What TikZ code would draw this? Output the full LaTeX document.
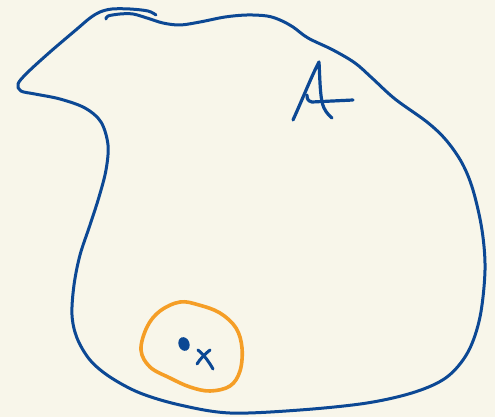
\documentclass[tikz,border=0pt]{standalone}
\definecolor{bg}{RGB}{248,246,234}
\definecolor{ink}{RGB}{12,72,148}
\definecolor{orng}{RGB}{245,158,38}
\tikzset{
  outline/.style={draw=ink, line width=3pt, line cap=round, line join=round},
  glyph/.style={draw=ink, line width=3.2pt, line cap=round, line join=round},
  nbhd/.style={draw=orng, line width=3.6pt, line cap=round, line join=round},
}
\begin{document}
\begin{tikzpicture}[x=1pt,y=-1pt]
\fill[bg] (0,0) rectangle (495,417);
\useasboundingbox (0,0) rectangle (495,417);
% set A outline
\draw[outline] plot[smooth, tension=0.55] coordinates {
(156,15) (148,11) (130,9) (112,9) (100,12) (90,18) (77,29) (50,52) (27,73) (18,84) (21,91) (35,94) (60,99) (85,108) (101,122) (108,145) (106,170) (99,197) (90,225) (80,255) (74,285) (72,315) (77,338) (90,360) (110,377) (140,393) (180,405) (230,413) (300,410) (367,403) (415,392) (447,377) (468,352) (480,317) (485,270) (482,230) (473,190) (462,163) (446,140) (427,122) (395,99) (372,78) (355,63) (333,50) (308,38) (293,27) (280,20) (267,16) (247,15) (225,17) (200,22) (180,25) (163,23) (147,18) (133,14) (120,14) (108,16) (106,19)};
% label A
\coordinate (Atop) at (319,62);
\draw[glyph] (293,120) .. controls (303,98) and (312,75) .. (Atop)
  .. controls (320,80) and (320,100) .. (324,108) .. controls (327,114) and (330,116) .. (332,118);
\draw[glyph] (307,95) .. controls (307,99) and (308,101) .. (312,102) -- (353,100);
% neighbourhood
\draw[nbhd] plot[smooth cycle, tension=0.6] coordinates {
(141,350) (147,327) (160,311) (180,302) (199,305) (220,313) (236,328) (242,348) (240,371) (230,386) (210,391) (190,387) (170,378) (150,367)};
% point x
\fill[ink, rotate around={20:(184,344)}] (184,344) ellipse (5.5pt and 7pt);
\draw[glyph, line width=3pt] (198,350) .. controls (205,356) and (209,362) .. (213,369);
\draw[glyph, line width=3pt] (210,350) .. controls (205,354) and (200,359) .. (197,364);
\end{tikzpicture}
\end{document}
